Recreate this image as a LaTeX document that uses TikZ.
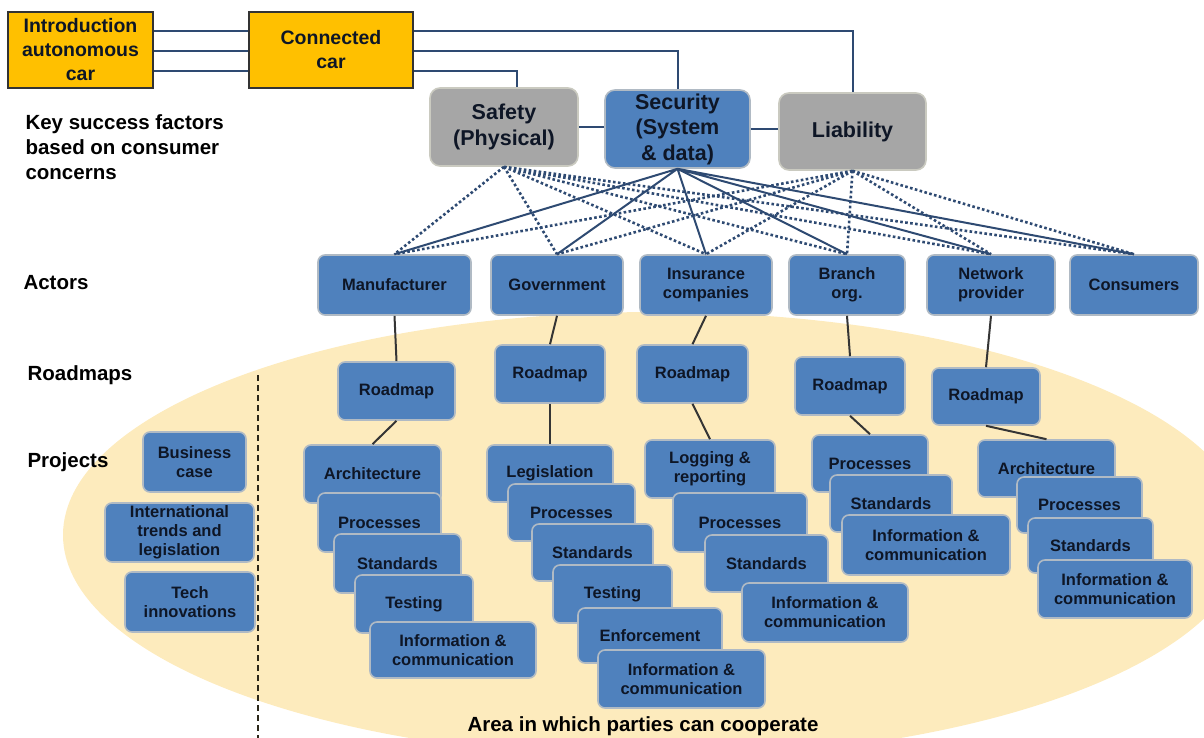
\documentclass[tikz,border=0pt]{standalone}
\usepackage{fontspec}
\setmainfont{Liberation Sans}
\usetikzlibrary{calc}

\definecolor{boxblue}{HTML}{4F81BD}
\definecolor{boxline}{HTML}{B0BAC4}
\definecolor{boxgrey}{HTML}{A6A6A6}
\definecolor{greyline}{HTML}{CACAC0}
\definecolor{boxgold}{HTML}{FFC000}
\definecolor{goldline}{HTML}{333333}
\definecolor{txtdark}{HTML}{0E1626}
\definecolor{linkblue}{HTML}{2E4A72}
\definecolor{stemgrey}{HTML}{353535}
\definecolor{areafill}{HTML}{FDEBBD}
\definecolor{dashbrown}{HTML}{2A2618}

\tikzset{
    box/.style 2 args={draw=boxline, line width=1.6pt, fill=boxblue, rounded corners=7pt,
        minimum width=#1pt, minimum height=#2pt, inner sep=1pt, align=center, text=txtdark,
        font=\bfseries\fontsize{16.5}{19}\selectfont},
    factor/.style 2 args={box={#1}{#2}, rounded corners=10pt,
        font=\bfseries\fontsize{21.5}{25.5}\selectfont},
    carbox/.style 2 args={draw=goldline, line width=2.4pt, fill=boxgold,
        minimum width=#1pt, minimum height=#2pt, inner sep=1pt, align=center, text=txtdark,
        font=\bfseries\fontsize{19.5}{24}\selectfont},
    rowlabel/.style={anchor=west, align=left, text=black,
        font=\bfseries\fontsize{20.5}{25}\selectfont},
    link/.style={draw=linkblue, line width=2pt},
    weaklink/.style={draw=linkblue, line width=2.6pt, dash pattern=on 2.6pt off 2.4pt},
    stem/.style={draw=stemgrey, line width=2pt},
    divider/.style={draw=dashbrown, line width=2pt, dash pattern=on 6pt off 4pt},
}

\begin{document}
\begin{tikzpicture}[x=1pt,y=-1pt]
    \useasboundingbox (0,0) rectangle (1204,738);

    % Area of cooperation
    \fill[areafill] (655,535) ellipse [x radius=592pt, y radius=223pt];

    % Cars
    \node[carbox={145}{76}] (intro) at (80.5,50) {Introduction\\autonomous\\car};
    \node[carbox={164}{76}] (conn) at (331,50) {Connected\\car};

    % Key success factors
    \node[factor={148}{78}, fill=boxgrey, draw=greyline] (safety) at (504,127) {Safety\\(Physical)};
    \node[factor={145}{78}] (security) at (677.5,129) {Security\\(System\\\& data)};
    \node[factor={147}{77}, fill=boxgrey, draw=greyline] (liability) at (852.5,131.5) {Liability};

    % Car links
    \draw[link] ($(intro.east)+(0,-19)$) -- ($(conn.west)+(0,-19)$);
    \draw[link] ($(intro.east)+(0,1)$) -- ($(conn.west)+(0,1)$);
    \draw[link] ($(intro.east)+(0,21)$) -- ($(conn.west)+(0,21)$);
    \draw[link] ($(conn.east)+(0,-19)$) -| (liability.north);
    \draw[link] ($(conn.east)+(0,1)$) -| (security.north);
    \draw[link] ($(conn.east)+(0,21)$) -| ($(safety.north)+(13,0)$);
    \draw[link] (safety.east) -- (safety.east -| security.west);
    \draw[link] (security.east) -- (security.east -| liability.west);

    % Row labels
    \node[rowlabel] (ksf) at (22,147) {Key success factors\\based on consumer\\concerns};
    \node[rowlabel] (lactors) at (20,283) {Actors};
    \node[rowlabel] (lroad) at (24,375) {Roadmaps};
    \node[rowlabel] (lproj) at (24,462) {Projects};

    % Actors
    \node[box={153}{60}] (manu) at (394.5,285) {Manufacturer};
    \node[box={132}{60}] (gov) at (557,285) {Government};
    \node[box={132}{60}] (ins) at (706,285) {Insurance\\companies};
    \node[box={116}{60}] (branch) at (847,285) {Branch\\org.};
    \node[box={128}{60}] (netw) at (991,285) {Network\\provider};
    \node[box={128}{60}] (cons) at (1134,285) {Consumers};

    % Factors to actors
    \draw[weaklink] (safety.south) -- (manu.north) (safety.south) -- (gov.north)
        (safety.south) -- (ins.north) (safety.south) -- (branch.north)
        (safety.south) -- (netw.north) (safety.south) -- (cons.north);
    \draw[weaklink] (liability.south) -- (manu.north) (liability.south) -- (gov.north)
        (liability.south) -- (ins.north) (liability.south) -- (branch.north)
        (liability.south) -- (netw.north) (liability.south) -- (cons.north);
    \draw[link] (security.south) -- (manu.north) (security.south) -- (gov.north)
        (security.south) -- (ins.north) (security.south) -- (branch.north)
        (security.south) -- (netw.north) (security.south) -- (cons.north);

    % Roadmaps
    \node[box={117}{58}] (rm1) at (396.5,391) {Roadmap};
    \node[box={110}{58}] (rm2) at (550,374) {Roadmap};
    \node[box={111}{58}] (rm3) at (692.5,374) {Roadmap};
    \node[box={110}{58}] (rm4) at (850,386) {Roadmap};
    \node[box={108}{57}] (rm5) at (986,396.5) {Roadmap};

    \draw[stem] (manu.south) -- (rm1.north);
    \draw[stem] (gov.south) -- (rm2.north);
    \draw[stem] (ins.south) -- (rm3.north);
    \draw[stem] (branch.south) -- (rm4.north);
    \draw[stem] (netw.south) -- (rm5.north);

    % Divider
    \coordinate (dtop) at (258,375);
    \coordinate (dbot) at (258,738);
    \draw[divider] (dtop) -- (dbot);

    % Shared projects
    \node[box={103}{60}] (biz) at (194.5,462) {Business\\case};
    \node[box={149}{59}] (intl) at (179.5,532.5) {International\\trends and\\legislation};
    \node[box={130}{60}] (tech) at (190,602) {Tech\\innovations};

    % Manufacturer projects
    \node[box={137}{58}] (a1) at (372.5,474) {Architecture};
    \node[box={123}{59}] (a2) at (379.5,522.5) {Processes};
    \node[box={127}{59}] (a3) at (397.5,563.5) {Standards};
    \node[box={118}{58}] (a4) at (414,604) {Testing};
    \node[box={166}{56}] (a5) at (453,650) {Information \&\\communication};

    % Government projects
    \node[box={126}{57}] (b1) at (550,473.5) {Legislation};
    \node[box={127}{57}] (b2) at (571.5,512.5) {Processes};
    \node[box={121}{57}] (b3) at (592.5,552.5) {Standards};
    \node[box={119}{58}] (b4) at (612.5,594) {Testing};
    \node[box={144}{55}] (b5) at (650,635.5) {Enforcement};
    \node[box={167}{58}] (b6) at (681.5,679) {Information \&\\communication};

    % Insurance projects
    \node[box={130}{58}] (c1) at (710,469) {Logging \&\\reporting};
    \node[box={134}{59}] (c2) at (740,522.5) {Processes};
    \node[box={123}{57}] (c3) at (766.5,563.5) {Standards};
    \node[box={166}{59}] (c4) at (825,612.5) {Information \&\\communication};

    % Branch projects
    \node[box={116}{57}] (d1) at (870,463.5) {Processes};
    \node[box={122}{57}] (d2) at (891,503.5) {Standards};
    \node[box={168}{60}] (d3) at (926,545) {Information \&\\communication};

    % Network projects
    \node[box={137}{57}] (e1) at (1046.5,468.5) {Architecture};
    \node[box={125}{56}] (e2) at (1079.5,505) {Processes};
    \node[box={125}{55}] (e3) at (1090.5,545.5) {Standards};
    \node[box={154}{58}] (e4) at (1115,589) {Information \&\\communication};

    \draw[stem] (rm1.south) -- (a1.north);
    \draw[stem] (rm2.south) -- (b1.north);
    \draw[stem] (rm3.south) -- (c1.north);
    \draw[stem] (rm4.south) -- (d1.north);
    \draw[stem] (rm5.south) -- (e1.north);

    \node[rowlabel, anchor=center] (area) at (643,726) {Area in which parties can cooperate};
\end{tikzpicture}
\end{document}
